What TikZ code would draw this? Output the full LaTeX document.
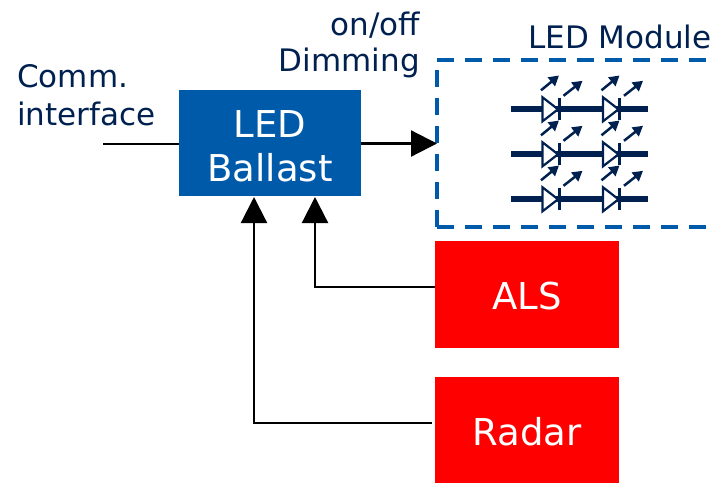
\documentclass[tikz,border=0pt]{standalone}
\usepackage{fontspec}
\setmainfont{DejaVu Sans}
\usetikzlibrary{arrows.meta}
\definecolor{navy}{RGB}{0,32,80}
\definecolor{ballast}{RGB}{0,90,170}
\definecolor{sens}{RGB}{255,0,0}
\newcommand{\lowered}[2]{\raisebox{-#1pt}[28pt][9pt]{#2}}
\tikzset{
  x=1pt,y=-1pt,
  box/.style={anchor=north west,inner sep=0pt,outer sep=0pt,align=center,text=white,font=\fontsize{37}{44}\selectfont},
  lbl/.style={text=navy,inner sep=0pt,font=\fontsize{31}{38}\selectfont,align=center},
  conn/.style={draw=black,line width=2.2pt,-{Triangle[length=26pt,width=26pt]}},
  plainconn/.style={draw=black,line width=2pt},
  wire/.style={draw=navy,line width=6pt},
  dtri/.style={draw=navy,fill=white,line width=2.2pt,line join=miter},
  dbar/.style={draw=navy,line width=3pt},
  ray/.style={draw=navy,line width=2.5pt,-{Triangle[length=10pt,width=11pt]}},
  modborder/.style={draw=ballast,line width=3.5pt,dash pattern=on 17pt off 11pt}
}
\begin{document}
\begin{tikzpicture}
\useasboundingbox (0,0) rectangle (711,482);
% boxes
\node[box,fill=ballast,minimum width=182pt,minimum height=106pt] (ballast) at (179,90) {\lowered{6.5}{LED}\\\lowered{6.5}{Ballast}};
\node[box,fill=sens,minimum width=184pt,minimum height=107pt] (als) at (435,241) {\lowered{5}{ALS}};
\node[box,fill=sens,minimum width=184pt,minimum height=107pt] (radar) at (435,377) {\lowered{5}{Radar}};
% module border
\coordinate (modtr) at (711,60);
\coordinate (modtl) at (437,60);
\coordinate (modbl) at (437,227);
\coordinate (modbr) at (711,227);
\draw[modborder] (modtl) -- (modtr);
\draw[modborder] (modbl) -- (modbr);
\draw[modborder] (modbl) -- (modtl);
% labels
\node[lbl,anchor=east] (onoff) at (420,25) {on/off};
\node[lbl,anchor=east] (dimming) at (420,63) {Dimming};
\node[lbl,anchor=west] (module) at (528,37) {LED Module};
\node[lbl,anchor=west] (comm) at (17,76) {Comm.};
\node[lbl,anchor=west] (iface) at (17,114) {interface};
% connectors
\coordinate (commin) at (103,143.5);
\coordinate (modin) at (437,143.5);
\coordinate (alsturn) at (315,287);
\coordinate (radarturn) at (254,423);
\coordinate (alsout) at (435,287);
\coordinate (radarout) at (432,423);
\coordinate (b1) at (315,197);
\coordinate (b2) at (254,197);
\draw[plainconn] (commin) -- (ballast.west |- commin);
\draw[conn] (ballast.east |- modin) -- (modin);
\draw[conn] (alsout) -- (alsturn) -- (b1);
\draw[conn] (radarout) -- (radarturn) -- (b2);
% LED array
\foreach \r in {109.3,154.3,199.3}{
  \draw[wire] (511,\r) -- (648,\r);
  \foreach \d in {0,60.5}{
    \draw[dtri] (542.5+\d,\r-12) -- (558+\d,\r) -- (542.5+\d,\r+12) -- cycle;
    \draw[dbar] (559+\d,\r-11) -- (559+\d,\r+11);
    \draw[ray] (541+\d,\r-19) -- (559+\d,\r-33.8);
    \draw[ray] (563.5+\d,\r-13.5) -- (582.5+\d,\r-28.5);
  }
}
\end{tikzpicture}
\end{document}
